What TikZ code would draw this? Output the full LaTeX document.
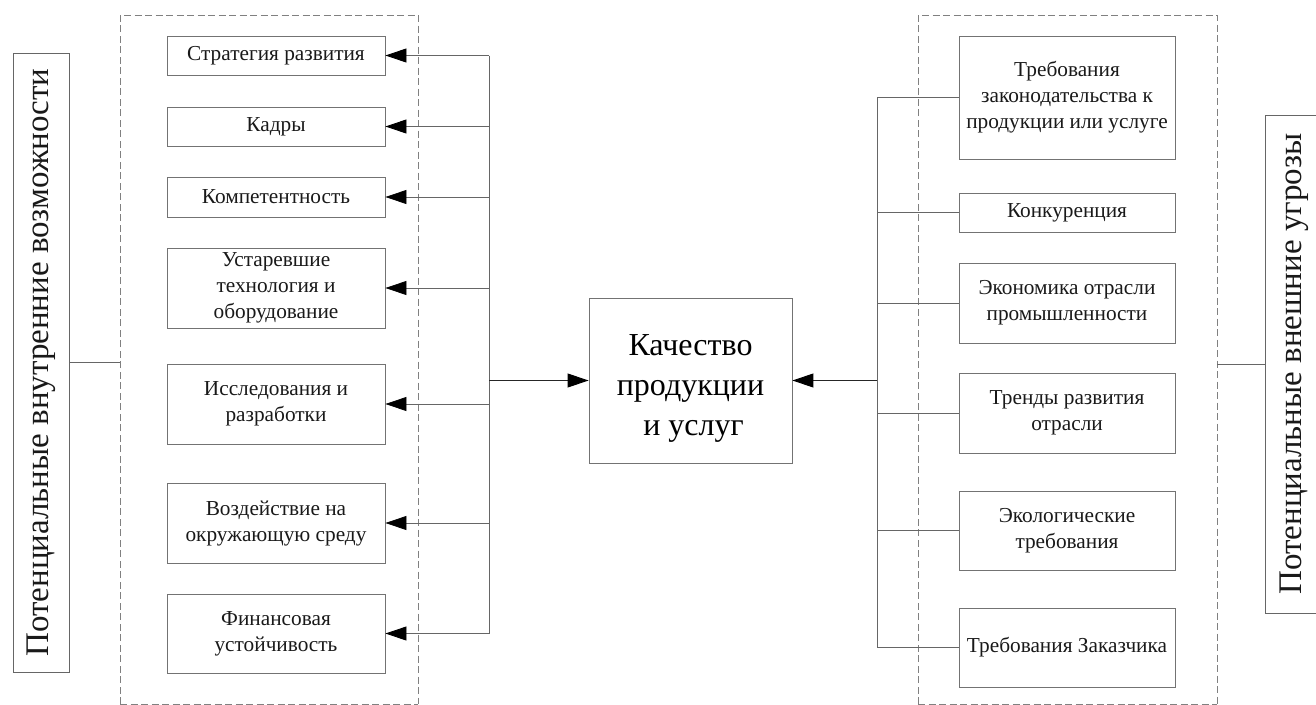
\documentclass[tikz,border=0pt]{standalone}
\usepackage{fontspec}
\setmainfont{Liberation Serif}
\usetikzlibrary{arrows.meta}
\begin{document}
\begin{tikzpicture}[x=1pt,y=-1pt,
  item/.style={draw=black!55,line width=0.9pt,align=center,inner sep=0pt,
    minimum width=218pt,font=\fontsize{21.3}{26}\selectfont,text=black!90},
  ritem/.style={item,minimum width=216pt},
  core/.style={draw=black!55,line width=0.9pt,inner sep=0pt,
    minimum width=203pt,minimum height=165pt,font=\fontsize{32}{40}\selectfont},
  side/.style={draw=black!60,line width=0.9pt,inner sep=0pt,rotate=90,
    font=\fontsize{33}{38}\selectfont,text=black!90},
  group/.style={draw=black!50,line width=0.8pt,dash pattern=on 7pt off 3.5pt},
  link/.style={draw=black!60,line width=0.8pt},
  arr/.style={link,-{Triangle[length=21pt,width=14pt,black]}},
  mainarr/.style={draw=black!85,line width=1pt,-{Triangle[length=21pt,width=14pt,black]}}]
\useasboundingbox (0,0) rectangle (1316,704);

% dashed group frames
\draw[group] (120,704) -- (120,15) -- (418,15) -- (418,704);
\draw[group] (918,704) -- (918,15) -- (1217,15) -- (1217,704);
\draw[group] (120,704) -- (418,704);
\draw[group] (918,704) -- (1217,704);

% side labels
\node[side,minimum width=619pt,minimum height=56pt] (inner) at (41,362.5)
  {Потенциальные внутренние возможности};
\node[side,minimum width=498pt,minimum height=58pt] (outer) at (1294,364)
  {Потенциальные внешние угрозы};
\coordinate (gl) at (120,362);
\coordinate (gr) at (1217,364);
\draw[link] (inner.south |- gl) -- (gl);
\draw[link] (gr) -- (outer.north |- gr);

% internal factors
\node[item,minimum height=39pt] (s1) at (276,55.5) {Стратегия развития};
\node[item,minimum height=39pt] (s2) at (276,126.5) {Кадры};
\node[item,minimum height=40pt] (s3) at (276,197) {Компетентность};
\node[item,minimum height=80pt] (s4) at (276,288) {Устаревшие\\технология и\\оборудование};
\node[item,minimum height=80pt] (s5) at (276,404) {Исследования и\\разработки};
\node[item,minimum height=80pt] (s6) at (276,523) {Воздействие на\\окружающую среду};
\node[item,minimum height=79pt] (s7) at (276,633.5) {Финансовая\\устойчивость};

% external factors
\node[ritem,minimum height=123pt] (r1) at (1067,97.5) {Требования\\законодательства к\\продукции или услуге};
\node[ritem,minimum height=39pt] (r2) at (1067,212.5) {Конкуренция};
\node[ritem,minimum height=80pt] (r3) at (1067,303) {Экономика отрасли\\промышленности};
\node[ritem,minimum height=80pt] (r4) at (1067,413) {Тренды развития\\отрасли};
\node[ritem,minimum height=79pt] (r5) at (1067,530.5) {Экологические\\требования};
\node[ritem,minimum height=79pt] (r6) at (1067,647.5) {Требования Заказчика};

% central node (text block sits slightly below the middle)
\node[core] (q) at (690.5,380.5)
  {\raisebox{-7pt}[\height][\depth]{\begin{tabular}{@{}c@{}}Качество\\продукции\\\hspace{6pt}и услуг\end{tabular}}};

% left bus
\coordinate (bl) at (489,0);
\draw[link] (s1.east -| bl) -- (s7.east -| bl);
\foreach \n in {s1,s2,s3,s4,s5,s6,s7}
  \draw[arr] (\n.east -| bl) -- (\n.east);
\draw[mainarr] (q.west -| bl) -- (q.west);

% right bus
\coordinate (br) at (877,0);
\draw[link] (r1.west -| br) -- (r6.west -| br);
\foreach \n in {r1,r2,r3,r4,r5,r6}
  \draw[link] (\n.west -| br) -- (\n.west);
\draw[mainarr] (q.east -| br) -- (q.east);
\end{tikzpicture}
\end{document}
